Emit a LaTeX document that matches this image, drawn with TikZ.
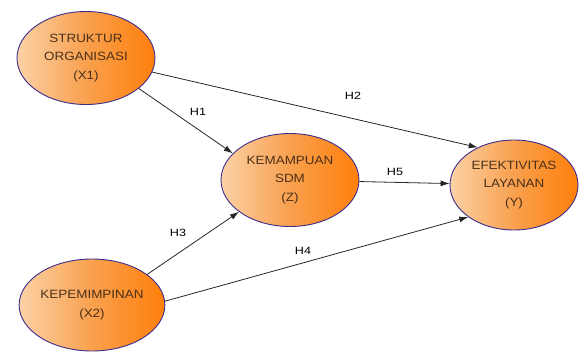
\documentclass[tikz,border=0pt]{standalone}
\usepackage{fontspec}
\newfontfamily\diagfont[FakeStretch=1.12]{Liberation Sans}
\newfontfamily\hypfont[FakeStretch=1.2]{Liberation Sans}
\usepackage{tikz}
\usetikzlibrary{shapes,arrows.meta,positioning}
\definecolor{peach}{HTML}{FBD2A6}
\definecolor{midorange}{HTML}{F9A04E}
\definecolor{deeporange}{HTML}{FF7F0A}
\definecolor{rim}{HTML}{3C2C8C}
\definecolor{ink}{HTML}{4A3018}

\begin{document}
\begin{tikzpicture}[x=1pt, y=-1pt,
    construct/.style={draw=rim, line width=0.9pt, ellipse, minimum width=138pt, minimum height=93pt, inner sep=0pt, align=center, left color=peach, right color=deeporange, middle color=midorange, text=ink, font=\diagfont\fontsize{12}{18.5}\selectfont},
    hyp/.style={font=\hypfont\fontsize{10.5}{12}\selectfont, text=black},
    link/.style={-{Latex[length=9pt,width=6pt]}, line width=0.8pt, black!85}
]
    \useasboundingbox (0,0) rectangle (584,351);

    \node[construct] (x1) at (86,58) {STRUKTUR\\ORGANISASI\\(X1)};
    \node[construct] (z) at (290,180) {KEMAMPUAN\\SDM\\(Z)};
    \node[construct, minimum width=128pt, minimum height=90pt] (y) at (514,185) {EFEKTIVITAS\\LAYANAN\\(Y)};
    \node[construct, minimum width=140pt, minimum height=92pt] (x2) at (92,305) {KEPEMIMPINAN\\(X2)};

    \node[hyp] (h1) at (198,112) {H1};
    \node[hyp] (h2) at (353,96) {H2};
    \node[hyp] (h3) at (178,233) {H3};
    \node[hyp] (h4) at (303,251) {H4};
    \node[hyp] (h5) at (395,172) {H5};

    \draw[link] (x1.-30) -- (z.155);
    \draw[link] (x1.-12) -- (y.134);
    \draw[link] (x2.29) -- (z.212);
    \draw[link] (x2.3) -- (y.215);
    \draw[link] (z) -- (y);
\end{tikzpicture}
\end{document}
